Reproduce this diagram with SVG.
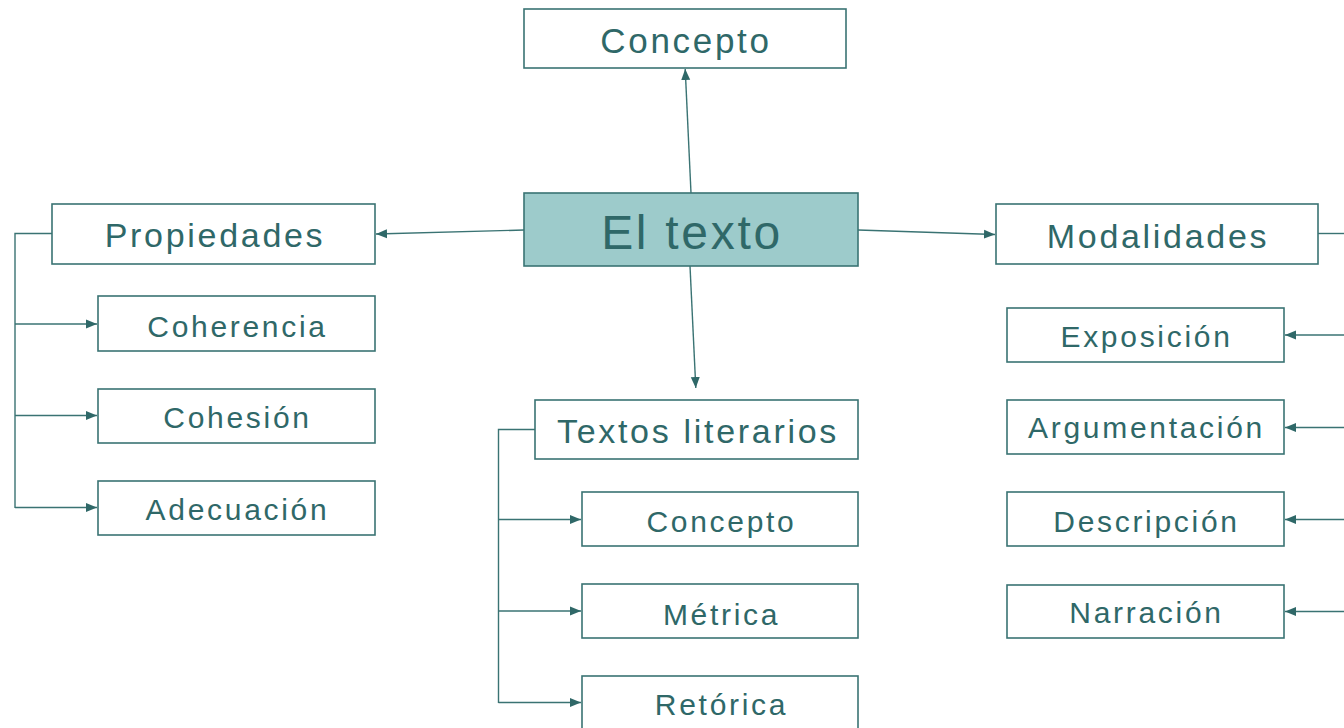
<svg xmlns="http://www.w3.org/2000/svg" width="1344" height="728" viewBox="0 0 1344 728">
<defs>
<style>
.box{fill:#ffffff;stroke:#3a7373;stroke-width:1.6}
.main{fill:#9dcbcb;stroke:#3a7373;stroke-width:1.6}
.t{font-family:"Liberation Sans",Arial,sans-serif;fill:#2f6868;text-anchor:middle;letter-spacing:2.7px}
.l{fill:none;stroke:#3a7373;stroke-width:1.4}
</style>
<marker id="ah" markerUnits="userSpaceOnUse" markerWidth="12" markerHeight="10" refX="11" refY="5" orient="auto">
<path d="M0,0.5 L11,5 L0,9.5 Z" fill="#2f6868"/>
</marker>
</defs>
<rect width="1344" height="728" fill="#ffffff"/>
<g id="connectors">
<line class="l" x1="691" y1="193" x2="685.2" y2="69" marker-end="url(#ah)"/>
<line class="l" x1="690" y1="266" x2="695.8" y2="388" marker-end="url(#ah)"/>
<line class="l" x1="524" y1="230" x2="376" y2="234" marker-end="url(#ah)"/>
<line class="l" x1="858" y1="230" x2="995" y2="234.5" marker-end="url(#ah)"/>
<polyline class="l" points="52,233.5 15,233.5 15,508"/>
<line class="l" x1="15" y1="324" x2="97" y2="324" marker-end="url(#ah)"/>
<line class="l" x1="15" y1="415.5" x2="97" y2="415.5" marker-end="url(#ah)"/>
<line class="l" x1="15" y1="507.5" x2="97" y2="507.5" marker-end="url(#ah)"/>
<polyline class="l" points="535,429.5 498.5,429.5 498.5,703"/>
<line class="l" x1="498.5" y1="519.5" x2="581" y2="519.5" marker-end="url(#ah)"/>
<line class="l" x1="498.5" y1="611" x2="581" y2="611" marker-end="url(#ah)"/>
<line class="l" x1="498.5" y1="702.5" x2="581" y2="702.5" marker-end="url(#ah)"/>
<line class="l" x1="1318" y1="233.5" x2="1344" y2="233.5"/>
<line class="l" x1="1344" y1="335" x2="1285" y2="335" marker-end="url(#ah)"/>
<line class="l" x1="1344" y1="427.5" x2="1285" y2="427.5" marker-end="url(#ah)"/>
<line class="l" x1="1344" y1="519.5" x2="1285" y2="519.5" marker-end="url(#ah)"/>
<line class="l" x1="1344" y1="611.5" x2="1285" y2="611.5" marker-end="url(#ah)"/>
</g>
<g id="el-texto"><rect class="main" x="524" y="193" width="334" height="73"/><text class="t" x="692" y="249" font-size="48">El texto</text></g>
<g id="concepto-top"><rect class="box" x="524" y="9" width="322" height="59"/><text class="t" x="686" y="53" font-size="35">Concepto</text></g>
<g id="propiedades"><rect class="box" x="52" y="204" width="323" height="60"/><text class="t" x="215" y="247" font-size="34">Propiedades</text></g>
<g id="coherencia"><rect class="box" x="98" y="296" width="277" height="55"/><text class="t" x="237.5" y="337" font-size="30">Coherencia</text></g>
<g id="cohesion"><rect class="box" x="98" y="389" width="277" height="54"/><text class="t" x="237.5" y="428" font-size="30">Cohesión</text></g>
<g id="adecuacion"><rect class="box" x="98" y="481" width="277" height="54"/><text class="t" x="237.5" y="520" font-size="30">Adecuación</text></g>
<g id="textos-literarios"><rect class="box" x="535" y="400" width="323" height="59"/><text class="t" x="698" y="443" font-size="34">Textos literarios</text></g>
<g id="concepto-lit"><rect class="box" x="582" y="492" width="276" height="54"/><text class="t" x="721.5" y="532" font-size="30">Concepto</text></g>
<g id="metrica"><rect class="box" x="582" y="584" width="276" height="54"/><text class="t" x="721.5" y="625" font-size="30">Métrica</text></g>
<g id="retorica"><rect class="box" x="582" y="676" width="276" height="60"/><text class="t" x="721.5" y="715" font-size="30">Retórica</text></g>
<g id="modalidades"><rect class="box" x="996" y="204" width="322" height="60"/><text class="t" x="1158" y="248" font-size="34">Modalidades</text></g>
<g id="exposicion"><rect class="box" x="1007" y="308" width="277" height="54"/><text class="t" x="1146.5" y="347" font-size="30">Exposición</text></g>
<g id="argumentacion"><rect class="box" x="1007" y="400" width="277" height="54"/><text class="t" x="1146.5" y="438" font-size="30">Argumentación</text></g>
<g id="descripcion"><rect class="box" x="1007" y="492" width="277" height="54"/><text class="t" x="1146.5" y="532" font-size="30">Descripción</text></g>
<g id="narracion"><rect class="box" x="1007" y="585" width="277" height="53"/><text class="t" x="1146.5" y="623" font-size="30">Narración</text></g>
</svg>
